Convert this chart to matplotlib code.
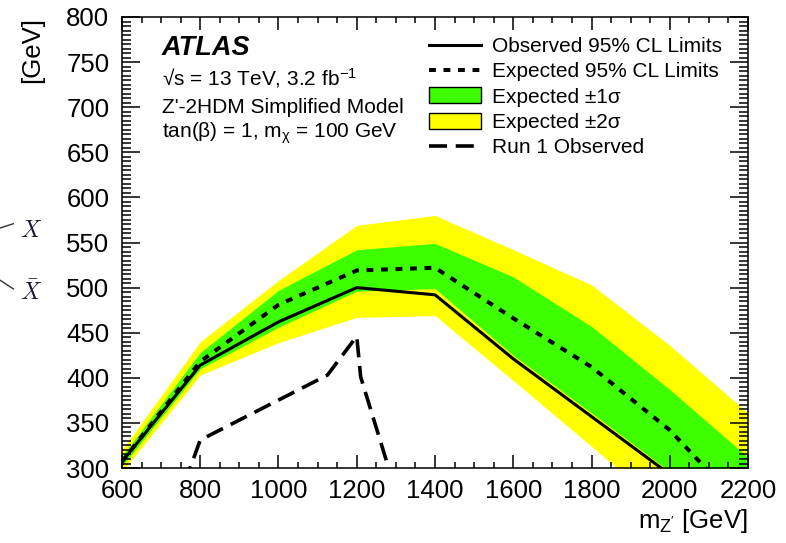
import numpy as np
import matplotlib
matplotlib.use("Agg")
import matplotlib.pyplot as plt
from matplotlib.lines import Line2D
from matplotlib.patches import Patch
from matplotlib.ticker import MultipleLocator

plt.rcParams["font.family"] = ["Liberation Sans", "DejaVu Sans"]

# Z' mass points [GeV] and 95% CL limits on m_A [GeV]
mass = [600, 800, 1000, 1200, 1400, 1600, 1800, 2000, 2200]
observed = [307, 414, 462, 500, 492, 421, 357, 293]
expected = [307, 418, 481, 519, 522, 466, 412, 342, 250]
exp_1s_up = [313, 428, 497, 542, 549, 512, 457, 387, 312]
exp_1s_dn = [302, 410, 456, 496, 499, 425, 361, 296, 230]
exp_2s_up = [320, 440, 508, 569, 580, 542, 503, 436, 361]
exp_2s_dn = [296, 403, 439, 467, 469, 397, 324, 250, 200]

# Run 1 observed contour
run1_mass = [760, 800, 1125, 1200, 1210, 1290]
run1_limit = [283, 331, 403, 446, 401, 288]

GREEN = "#3dff00"
YELLOW = "#ffff00"

fig = plt.figure(figsize=(7.86, 5.43), dpi=100)
ax = fig.add_axes([0.1552, 0.1381, 0.7965, 0.8306])

ax.fill_between(mass, exp_2s_dn, exp_2s_up, color=YELLOW, lw=0)
ax.fill_between(mass, exp_1s_dn, exp_1s_up, color=GREEN, lw=0)
ax.plot(mass, expected, color="black", lw=2.9, ls=(0, (1.7, 1.9)))
ax.plot(mass[:len(observed)], observed, color="black", lw=2.2)
ax.plot(run1_mass, run1_limit, color="black", lw=2.6, ls=(0, (5.0, 2.4)))

ax.set_xlim(600, 2200)
ax.set_ylim(300, 800)

# ROOT-like inward ticks on all four sides
ax.xaxis.set_major_locator(MultipleLocator(200))
ax.xaxis.set_minor_locator(MultipleLocator(50))
ax.yaxis.set_major_locator(MultipleLocator(50))
ax.yaxis.set_minor_locator(MultipleLocator(5))
ax.tick_params(which="both", direction="in", top=True, right=True,
               width=1.1, labelsize=18.5)
ax.tick_params(axis="x", which="major", length=9.5, pad=8)
ax.tick_params(axis="x", which="minor", length=4.5)
ax.tick_params(axis="y", which="major", length=13, pad=9)
ax.tick_params(axis="y", which="minor", length=6.5)
for sp in ax.spines.values():
    sp.set_linewidth(1.1)

ax.set_xlabel(r"m$\mathregular{_{Z'}}$ [GeV]", fontsize=18.5, loc="right",
              labelpad=3)
ax.set_ylabel("[GeV]", fontsize=18.5, loc="top", labelpad=16)

# ATLAS label block
ax.text(0.064, 0.916, "ATLAS", transform=ax.transAxes, fontsize=19.5,
        fontweight="bold", style="italic", va="baseline")
ax.text(0.064, 0.865, r"√s = 13 TeV, 3.2 fb$\mathregular{^{-1}}$",
        transform=ax.transAxes, fontsize=15, va="center")
ax.text(0.064, 0.800, "Z'-2HDM Simplified Model", transform=ax.transAxes,
        fontsize=15, va="center")
ax.text(0.064, 0.743, r"tan(β) = 1, m$\mathregular{_{χ}}$ = 100 GeV",
        transform=ax.transAxes, fontsize=15, va="center")

handles = [
    Line2D([], [], color="black", lw=2.2),
    Line2D([], [], color="black", lw=2.9, ls=(0, (1.7, 1.9))),
    Patch(facecolor=GREEN, edgecolor="black", lw=1.0),
    Patch(facecolor=YELLOW, edgecolor="black", lw=1.0),
    Line2D([], [], color="black", lw=2.6, ls=(0, (5.0, 2.4))),
]
labels = ["Observed 95% CL Limits", "Expected 95% CL Limits",
          "Expected ±1σ", "Expected ±2σ", "Run 1 Observed"]
ax.legend(handles, labels, loc="upper left", bbox_to_anchor=(0.467, 0.988),
          frameon=False, fontsize=15, handlelength=2.5, handleheight=0.8,
          handletextpad=0.55, labelspacing=0.29, borderaxespad=0.3)

# fragments of a diagram cut off at the left edge
fig.text(0.025, 0.575, "$X$", fontsize=17, color="#1a1a33",
         math_fontfamily="cm", va="center")
fig.text(0.025, 0.462, r"$\bar{X}$", fontsize=17, color="#1a1a33",
         math_fontfamily="cm", va="center")
fig.add_artist(Line2D([0.0, 0.017], [0.580, 0.588], color="#333333",
                      lw=1.0, transform=fig.transFigure))
fig.add_artist(Line2D([0.0, 0.017], [0.484, 0.468], color="#333333",
                      lw=1.0, transform=fig.transFigure))

fig.savefig("out.png", dpi=100)
